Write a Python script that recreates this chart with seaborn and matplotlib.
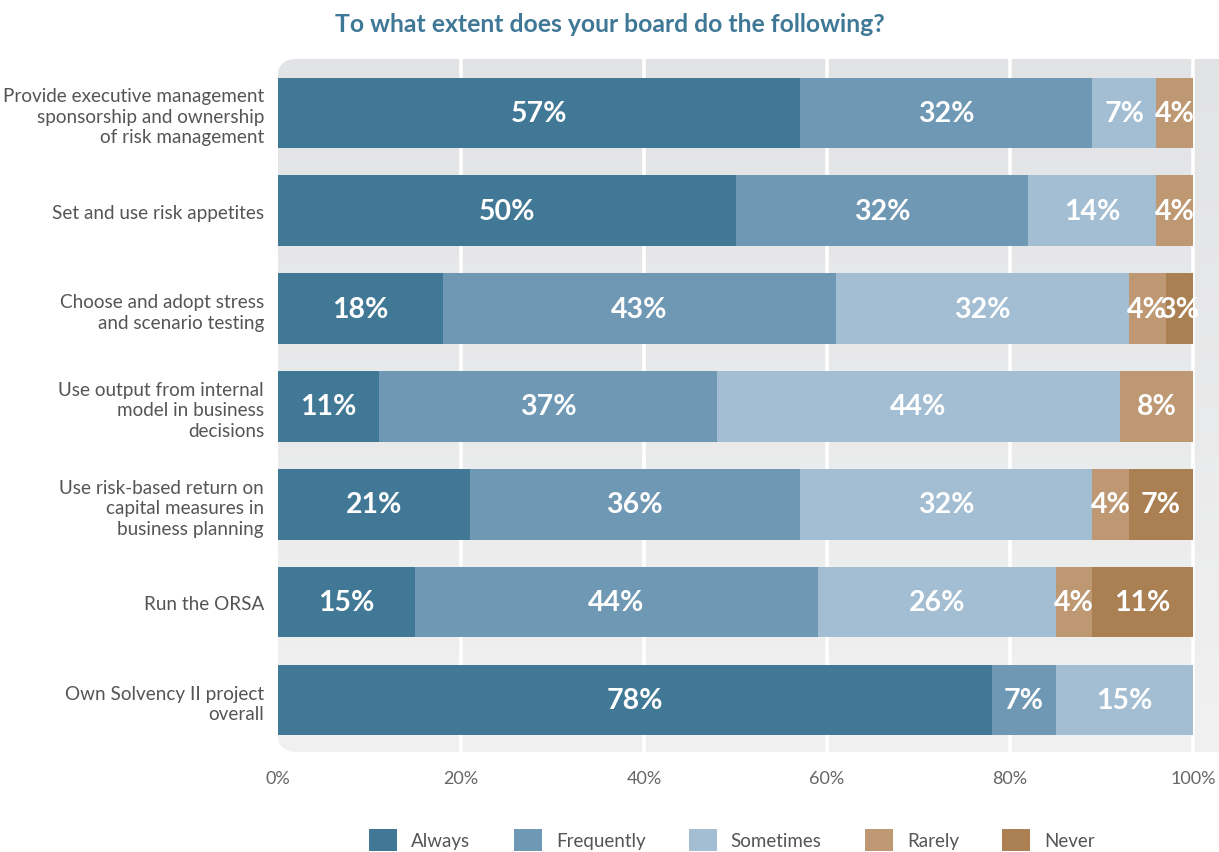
import matplotlib
matplotlib.use("Agg")
import matplotlib.pyplot as plt
import matplotlib.patches as mpatches
import matplotlib.transforms as mtransforms
import numpy as np
import pandas as pd
import seaborn as sns

# ---------------- data ----------------
categories = [
    "Provide executive management\nsponsorship and ownership\nof risk management",
    "Set and use risk appetites",
    "Choose and adopt stress\nand scenario testing",
    "Use output from internal\nmodel in business\ndecisions",
    "Use risk-based return on\ncapital measures in\nbusiness planning",
    "Run the ORSA",
    "Own Solvency II project\noverall",
]
series_names = ["Always", "Frequently", "Sometimes", "Rarely", "Never"]
always     = [57, 50, 18, 11, 21, 15, 78]
frequently = [32, 32, 43, 37, 36, 44, 7]
sometimes  = [7, 14, 32, 44, 32, 26, 15]
rarely     = [4, 4, 4, 8, 4, 4, 0]
never      = [0, 0, 3, 0, 7, 11, 0]
x_ticks = [0, 20, 40, 60, 80, 100]
x_tick_labels = ["0%", "20%", "40%", "60%", "80%", "100%"]
title = "To what extent does your board do the following?"

colors = ["#407896", "#6e98b4", "#a3bed2", "#bd9873", "#aa8052"]

# ---------------- figure ----------------
sns.set_style("white")
plt.rcParams["font.family"] = ["Lato", "DejaVu Sans"]

W, H = 1219, 853
fig = plt.figure(figsize=(W / 100, H / 100), dpi=100)
ax_l, ax_r, ax_t, ax_b = 278, 1219, 60, 753
ax = fig.add_axes([ax_l / W, 1 - ax_b / H, (ax_r - ax_l) / W, (ax_b - ax_t) / H])

values = np.array([always, frequently, sometimes, rarely, never], dtype=float)
cums = np.cumsum(values, axis=0)

df = pd.DataFrame({"category": categories})
for name, c in zip(series_names, cums):
    df[name] = c

# draw stacked bars: largest cumulative first
for k in range(len(series_names) - 1, -1, -1):
    sns.barplot(data=df, x=series_names[k], y="category", color=colors[k],
                orient="h", width=0.72, saturation=1, ax=ax, zorder=3,
                linewidth=0)

xmax = (ax_r - ax_l) / (1193 - ax_l) * 100
ax.set_xlim(0, xmax)
ax.set_ylim(6.53, -0.55)

# background: rounded gradient panel
bg_patch = mpatches.FancyBboxPatch((ax_l - 1, H - ax_b), 1100, ax_b - ax_t,
                                   boxstyle="round,pad=0,rounding_size=20",
                                   transform=mtransforms.IdentityTransform(),
                                   facecolor="none", edgecolor="none")
fig.patches.append(bg_patch)
grad = np.linspace(0, 1, 256).reshape(-1, 1)
top_c = np.array([0.886, 0.890, 0.898])
bot_c = np.array([0.945, 0.945, 0.945])
img = top_c[None, None, :] * (1 - grad[..., None]) + bot_c[None, None, :] * grad[..., None]
im = ax.imshow(img, extent=(-5, xmax + 5, 6.53, -0.55), aspect="auto",
               zorder=0, interpolation="bilinear")
im.set_clip_path(bg_patch)
ax.set_xlim(0, xmax)
ax.set_ylim(6.53, -0.55)

for xv in x_ticks[1:]:
    ax.axvline(xv, color="white", lw=2.6, zorder=1)

# value labels
for k in range(len(series_names)):
    for i in range(len(categories)):
        v = values[k, i]
        if v <= 0:
            continue
        left = cums[k, i] - v
        ax.text(left + v / 2, i, f"{int(v)}%", ha="center", va="center",
                color="white", fontsize=20.5, fontweight="bold", zorder=5)

for s in ax.spines.values():
    s.set_visible(False)
ax.set_xlabel("")
ax.set_ylabel("")
ax.set_xticks(x_ticks)
ax.set_xticklabels(x_tick_labels)
ax.tick_params(axis="x", length=0, pad=13, labelsize=13, labelcolor="#666666")
ax.tick_params(axis="y", length=0, pad=10, labelsize=13.6, labelcolor="#555555")
for lbl in ax.get_yticklabels():
    lbl.set_linespacing(1.25)

fig.text(610 / W, 1 - 25 / H, title, ha="center", va="center",
         fontsize=17.8, fontweight="bold", color="#3f7896")

handles = [mpatches.Patch(facecolor=c, edgecolor="none", label=n)
           for c, n in zip(colors, series_names)]
fig.legend(handles=handles, loc="center", bbox_to_anchor=(732 / W, 1 - 841 / H),
           ncol=5, frameon=False, fontsize=13.5, handlelength=1.5, handleheight=1.5,
           handletextpad=0.75, columnspacing=2.3, labelcolor="#555555")

fig.savefig("out.png", dpi=100)
